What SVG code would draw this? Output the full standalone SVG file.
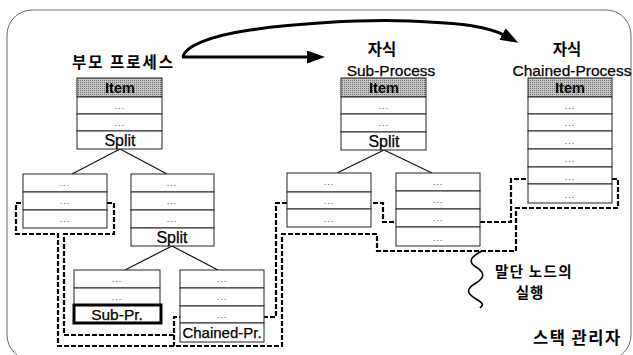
<svg xmlns="http://www.w3.org/2000/svg" width="633" height="355" viewBox="0 0 633 355">
  <style>
    .frame { fill: none; stroke: #6a6a6a; stroke-width: 1; }
    .box { fill: #ffffff; stroke: #222; stroke-width: 1; }
    .head { fill: url(#halftone); stroke: #222; stroke-width: 1; }
    .hot { fill: #ffffff; stroke: #000; stroke-width: 3; }
    .link { fill: none; stroke: #111; stroke-width: 1.2; }
    .flow { fill: none; stroke: #000; stroke-width: 3; }
    .stack { fill: none; stroke: #000; stroke-width: 2.2; stroke-dasharray: 5 2; }
    .wave { fill: none; stroke: #000; stroke-width: 1.6; }
    .ko { font-family: "Noto Sans CJK KR", "Noto Sans", sans-serif; font-weight: bold; fill: #000; }
    .lat { font-family: "Liberation Sans", Arial, sans-serif; fill: #000; stroke: #000; stroke-width: 0.25; }
    .item { font-family: "Liberation Sans", Arial, sans-serif; font-weight: bold; font-size: 14.5px; fill: #000; }
    .dots { font-family: "Liberation Sans", Arial, sans-serif; font-size: 9px; fill: #444; letter-spacing: 1px; }
    .mid { text-anchor: middle; }
  </style>
  <defs>
    <pattern id="halftone" width="2" height="2" patternUnits="userSpaceOnUse">
      <rect width="2" height="2" fill="#c6c6c6"/>
      <rect width="1" height="1" fill="#6e6e6e"/>
    </pattern>
    <marker id="head" markerUnits="userSpaceOnUse" markerWidth="20" markerHeight="14" refX="4" refY="6.5" orient="auto">
      <path d="M0,0 L18,6.5 L0,13 z" fill="#000"/>
    </marker>
  </defs>

  <!-- outer frame -->
  <rect class="frame" x="7" y="10" width="624" height="350" rx="25" ry="25"/>

  <!-- connectors: process arrows, split links, stack outline, execution wave -->
  <g id="connectors">
    <path class="flow" d="M182,57 H311" marker-end="url(#head)"/>
    <path class="flow" d="M183,57 C185,46 210,36 250,30 S360,19 410,21 S488,26 506,36" marker-end="url(#head)"/>

    <path class="link" d="M120,149 L72,174 M120,149 L167,174"/>
    <path class="link" d="M172,246 L125,270 M172,246 L218,270"/>
    <path class="link" d="M384,150 L337,173 M384,150 L432,173"/>

    <path class="stack" d="M16,203 H114 V234 H64 V335 H174 V317 H276 V203 H383 V222 H511 V179 H618 V208 H516 V251 H377 V234 H282 V346 H58 V234 H16 Z"/>
    <path class="stack" d="M174,335 V346"/>

    <path class="wave" d="M482,251 C470,257 468,262 476,267 S486,277 476,283 S466,293 476,299 S482,305 480,308"/>
  </g>

  <!-- parent process -->
  <g id="parent-process">
    <text class="ko" x="72" y="68" font-size="15.5" letter-spacing="2">부모 프로세스</text>
    <rect class="head" x="77" y="78" width="85" height="19"/>
    <text class="item mid" x="120" y="93">Item</text>
    <rect class="box" x="77" y="97" width="85" height="17"/>
    <text class="dots mid" x="120" y="109">...</text>
    <rect class="box" x="77" y="114" width="85" height="17"/>
    <text class="dots mid" x="120" y="126">...</text>
    <rect class="box" x="77" y="131" width="85" height="18"/>
    <text class="lat mid" x="120" y="146" font-size="16">Split</text>
  </g>

  <!-- parent: left branch -->
  <g id="parent-left">
    <rect class="box" x="23" y="174" width="84" height="18"/>
    <text class="dots mid" x="65" y="186">...</text>
    <rect class="box" x="23" y="192" width="84" height="18"/>
    <text class="dots mid" x="65" y="204">...</text>
    <rect class="box" x="23" y="210" width="84" height="18"/>
    <text class="dots mid" x="65" y="222">...</text>
  </g>

  <!-- parent: right branch -->
  <g id="parent-right">
    <rect class="box" x="131" y="174" width="83" height="18"/>
    <text class="dots mid" x="172" y="186">...</text>
    <rect class="box" x="131" y="192" width="83" height="18"/>
    <text class="dots mid" x="172" y="204">...</text>
    <rect class="box" x="131" y="210" width="83" height="18"/>
    <text class="dots mid" x="172" y="222">...</text>
    <rect class="box" x="131" y="228" width="83" height="18"/>
    <text class="lat mid" x="172" y="243" font-size="16">Split</text>
  </g>

  <!-- leaf holding the sub-process call -->
  <g id="leaf-sub">
    <rect class="box" x="74" y="270" width="86" height="18"/>
    <text class="dots mid" x="117" y="282">...</text>
    <rect class="box" x="74" y="288" width="86" height="17"/>
    <text class="dots mid" x="117" y="300">...</text>
    <rect class="hot" x="74" y="305" width="87" height="18"/>
    <text class="lat mid" x="117" y="320" font-size="15.5">Sub-Pr.</text>
  </g>

  <!-- leaf holding the chained-process call -->
  <g id="leaf-chained">
    <rect class="box" x="180" y="270" width="84" height="18"/>
    <text class="dots mid" x="222" y="282">...</text>
    <rect class="box" x="180" y="288" width="84" height="18"/>
    <text class="dots mid" x="222" y="300">...</text>
    <rect class="box" x="180" y="306" width="84" height="17"/>
    <text class="dots mid" x="222" y="318">...</text>
    <rect class="box" x="180" y="323" width="84" height="19"/>
    <text class="lat mid" x="222" y="338" font-size="15">Chained-Pr.</text>
  </g>

  <!-- child sub-process -->
  <g id="sub-process">
    <text class="ko mid" x="382" y="55" font-size="15.5">자식</text>
    <text class="lat mid" x="391" y="76" font-size="15.5">Sub-Process</text>
    <rect class="head" x="341" y="78" width="85" height="19"/>
    <text class="item mid" x="384" y="93">Item</text>
    <rect class="box" x="341" y="97" width="85" height="17"/>
    <text class="dots mid" x="384" y="109">...</text>
    <rect class="box" x="341" y="114" width="85" height="18"/>
    <text class="dots mid" x="384" y="126">...</text>
    <rect class="box" x="341" y="132" width="85" height="18"/>
    <text class="lat mid" x="384" y="147" font-size="16">Split</text>
  </g>

  <!-- sub-process: left branch -->
  <g id="sub-left">
    <rect class="box" x="287" y="173" width="84" height="19"/>
    <text class="dots mid" x="329" y="185">...</text>
    <rect class="box" x="287" y="192" width="84" height="17"/>
    <text class="dots mid" x="329" y="204">...</text>
    <rect class="box" x="287" y="209" width="84" height="18"/>
    <text class="dots mid" x="329" y="222">...</text>
  </g>

  <!-- sub-process: right branch -->
  <g id="sub-right">
    <rect class="box" x="396" y="173" width="84" height="18"/>
    <text class="dots mid" x="438" y="185">...</text>
    <rect class="box" x="396" y="191" width="84" height="18"/>
    <text class="dots mid" x="438" y="203">...</text>
    <rect class="box" x="396" y="209" width="84" height="18"/>
    <text class="dots mid" x="438" y="221">...</text>
    <rect class="box" x="396" y="227" width="84" height="19"/>
    <text class="dots mid" x="438" y="241">...</text>
  </g>

  <!-- child chained-process -->
  <g id="chained-process">
    <text class="ko mid" x="567" y="55" font-size="15.5">자식</text>
    <text class="lat mid" x="572" y="76" font-size="15.5">Chained-Process</text>
    <rect class="head" x="528" y="78" width="84" height="19"/>
    <text class="item mid" x="570" y="93">Item</text>
    <rect class="box" x="528" y="97" width="84" height="17"/>
    <text class="dots mid" x="570" y="109">...</text>
    <rect class="box" x="528" y="114" width="84" height="17"/>
    <text class="dots mid" x="570" y="126">...</text>
    <rect class="box" x="528" y="131" width="84" height="18"/>
    <text class="dots mid" x="570" y="144">...</text>
    <rect class="box" x="528" y="149" width="84" height="18"/>
    <text class="dots mid" x="570" y="162">...</text>
    <rect class="box" x="528" y="167" width="84" height="17"/>
    <text class="dots mid" x="570" y="180">...</text>
    <rect class="box" x="528" y="184" width="84" height="19"/>
    <text class="dots mid" x="570" y="198">...</text>
  </g>

  <!-- notes -->
  <g id="leaf-execution-note">
    <text class="ko" x="495" y="277" font-size="14.5" letter-spacing="1.3">말단 노드의</text>
    <text class="ko mid" x="530" y="298" font-size="14.5" letter-spacing="1">실행</text>
  </g>
  <g id="stack-manager-label">
    <text class="ko" x="533" y="344" font-size="16.5" letter-spacing="1.5">스택 관리자</text>
  </g>
</svg>
